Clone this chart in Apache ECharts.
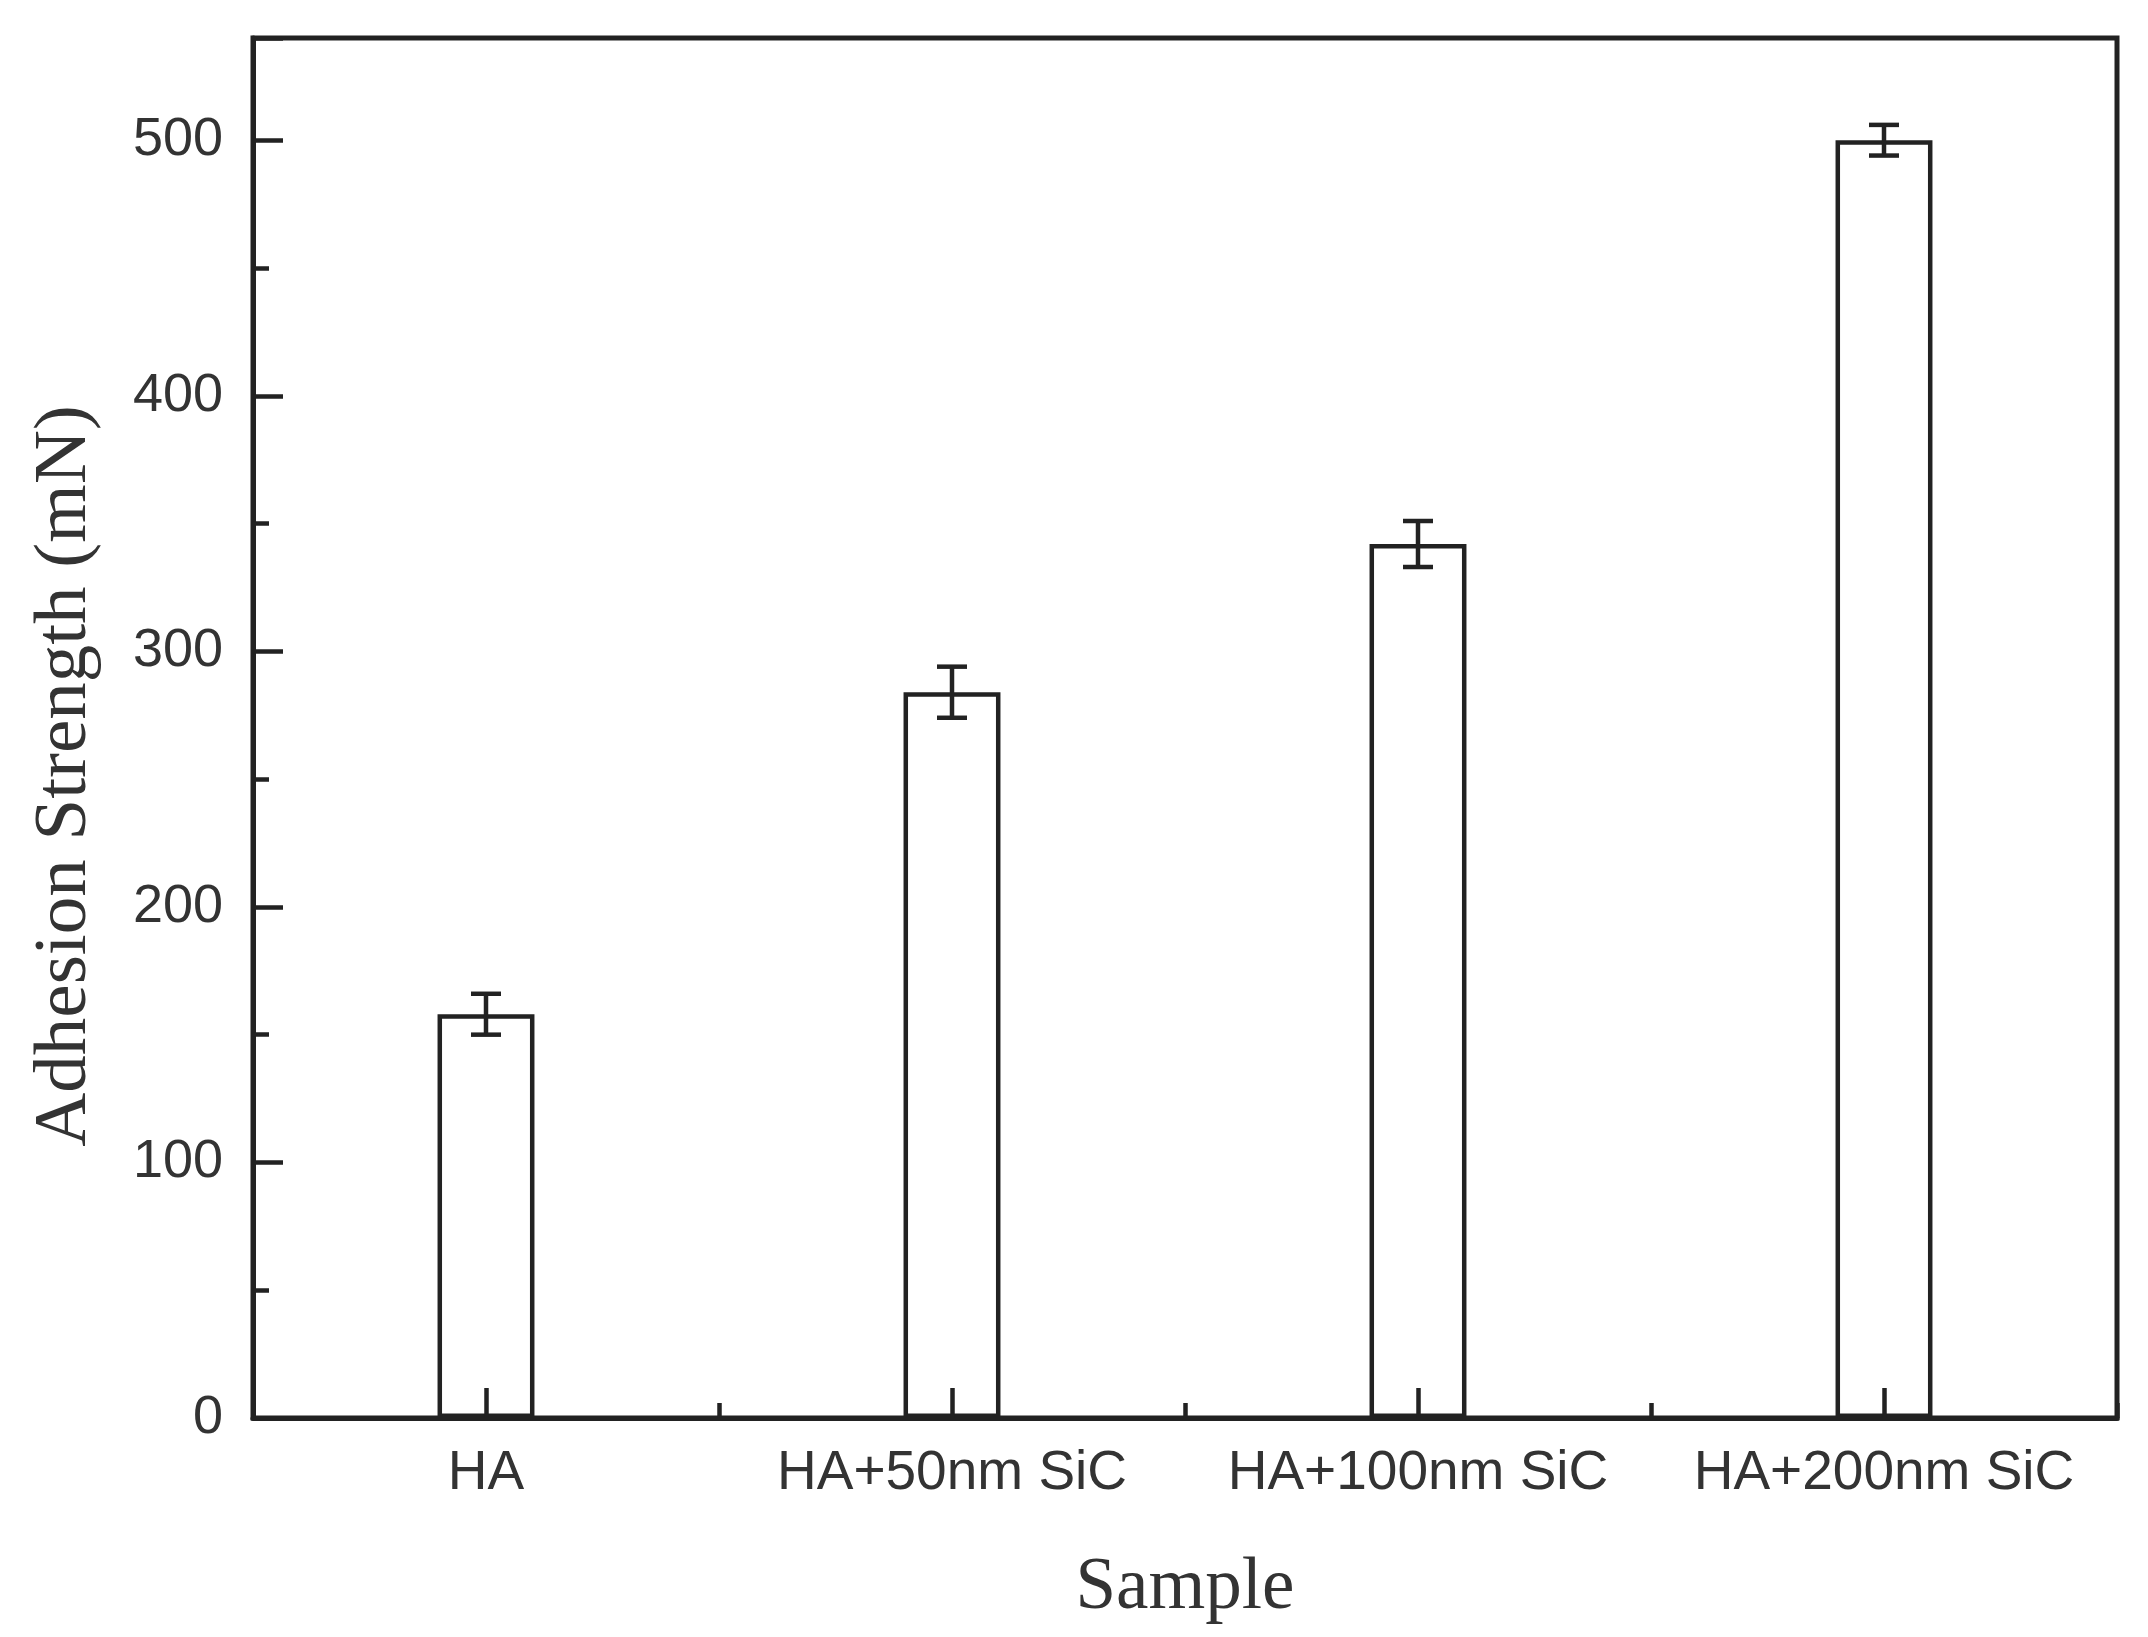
<!DOCTYPE html>
<html>
<head>
<meta charset="utf-8">
<title>Adhesion Strength</title>
<script src="https://cdn.jsdelivr.net/npm/echarts@6/dist/echarts.min.js"></script>
<style>
  html, body { margin: 0; padding: 0; background: #fff; }
  #chart { width: 2148px; height: 1637px; }
</style>
</head>
<body>
<div id="chart"></div>
<script>
// 数据
var samples = ['HA', 'HA+50nm SiC', 'HA+100nm SiC', 'HA+200nm SiC'];
var strength = [158, 284, 342, 500];
var strengthErr = [8, 10, 9, 6];
var yTicks = [0, 100, 200, 300, 400, 500];

var ink = '#222';

var chart = echarts.init(document.getElementById('chart'));

// error bars: vertical line plus two caps
function renderErr(params, api) {
    var i = api.value(0);
    var hi = api.coord([i, api.value(1)]);
    var lo = api.coord([i, api.value(2)]);
    var cap = 15;
    var st = { stroke: ink, lineWidth: 4.5 };
    return {
        type: 'group',
        children: [
            { type: 'line', shape: { x1: hi[0], y1: hi[1], x2: lo[0], y2: lo[1] }, style: st },
            { type: 'line', shape: { x1: hi[0] - cap, y1: hi[1], x2: hi[0] + cap, y2: hi[1] }, style: st },
            { type: 'line', shape: { x1: lo[0] - cap, y1: lo[1], x2: lo[0] + cap, y2: lo[1] }, style: st }
        ]
    };
}

var errData = strength.map(function (v, i) {
    return [i, v + strengthErr[i], v - strengthErr[i]];
});

chart.setOption({
    backgroundColor: '#fff',
    animation: false,
    grid: {
        left: 253, right: 31, top: 38, bottom: 219,
        show: true, borderColor: ink, borderWidth: 5
    },
    xAxis: [
        {
            type: 'category',
            position: 'bottom',
            data: samples,
            name: 'Sample',
            nameLocation: 'middle',
            nameGap: 134,
            nameTextStyle: { fontFamily: 'Liberation Serif', fontSize: 73, color: '#333' },
            axisLine: { show: true, lineStyle: { color: ink, width: 5 } },
            axisTick: { show: true, interval: 0, alignWithLabel: true, inside: true, length: 30, lineStyle: { color: ink, width: 4.5 } },
            axisLabel: { interval: 0, margin: 28, fontFamily: 'Liberation Sans', fontSize: 55, color: '#333' },
            splitLine: { show: false },
            z: 5
        },
        {
            // 类别之间的短刻度
            type: 'category',
            position: 'bottom',
            data: samples,
            axisLine: { show: false },
            axisTick: { show: true, interval: 0, inside: true, length: 15, lineStyle: { color: ink, width: 4.5 } },
            axisLabel: { show: false },
            splitLine: { show: false },
            z: 5
        }
    ],
    yAxis: [
        {
            type: 'value',
            position: 'left',
            min: 0, max: 540, interval: 100,
            name: 'Adhesion Strength (mN)',
            nameLocation: 'middle',
            nameGap: 150,
            nameTextStyle: {
                fontFamily: 'Liberation Serif', fontSize: 75, color: '#333',
                padding: [0, 96, 0, 0]
            },
            axisLine: { show: true, lineStyle: { color: ink, width: 5 } },
            axisTick: { show: true, inside: true, length: 30, lineStyle: { color: ink, width: 4.5 } },
            axisLabel: {
                margin: 30, fontFamily: 'Liberation Sans', fontSize: 54, color: '#333',
                formatter: function (v) { return yTicks.indexOf(v) >= 0 ? String(v) : ''; }
            },
            splitLine: { show: false }
        },
        {
            type: 'value',
            position: 'left',
            min: 0, max: 540, interval: 50,
            axisLine: { show: false },
            axisTick: { show: true, inside: true, length: 16, lineStyle: { color: ink, width: 4.5 } },
            axisLabel: { show: false },
            splitLine: { show: false }
        }
    ],
    series: [
        {
            type: 'bar',
            data: strength,
            barWidth: '20.8%',
            itemStyle: { color: 'rgba(255,255,255,0)', borderColor: ink, borderWidth: 4.5 },
            z: 2
        },
        {
            type: 'custom',
            data: errData,
            renderItem: renderErr,
            z: 3
        }
    ]
});
</script>
</body>
</html>
